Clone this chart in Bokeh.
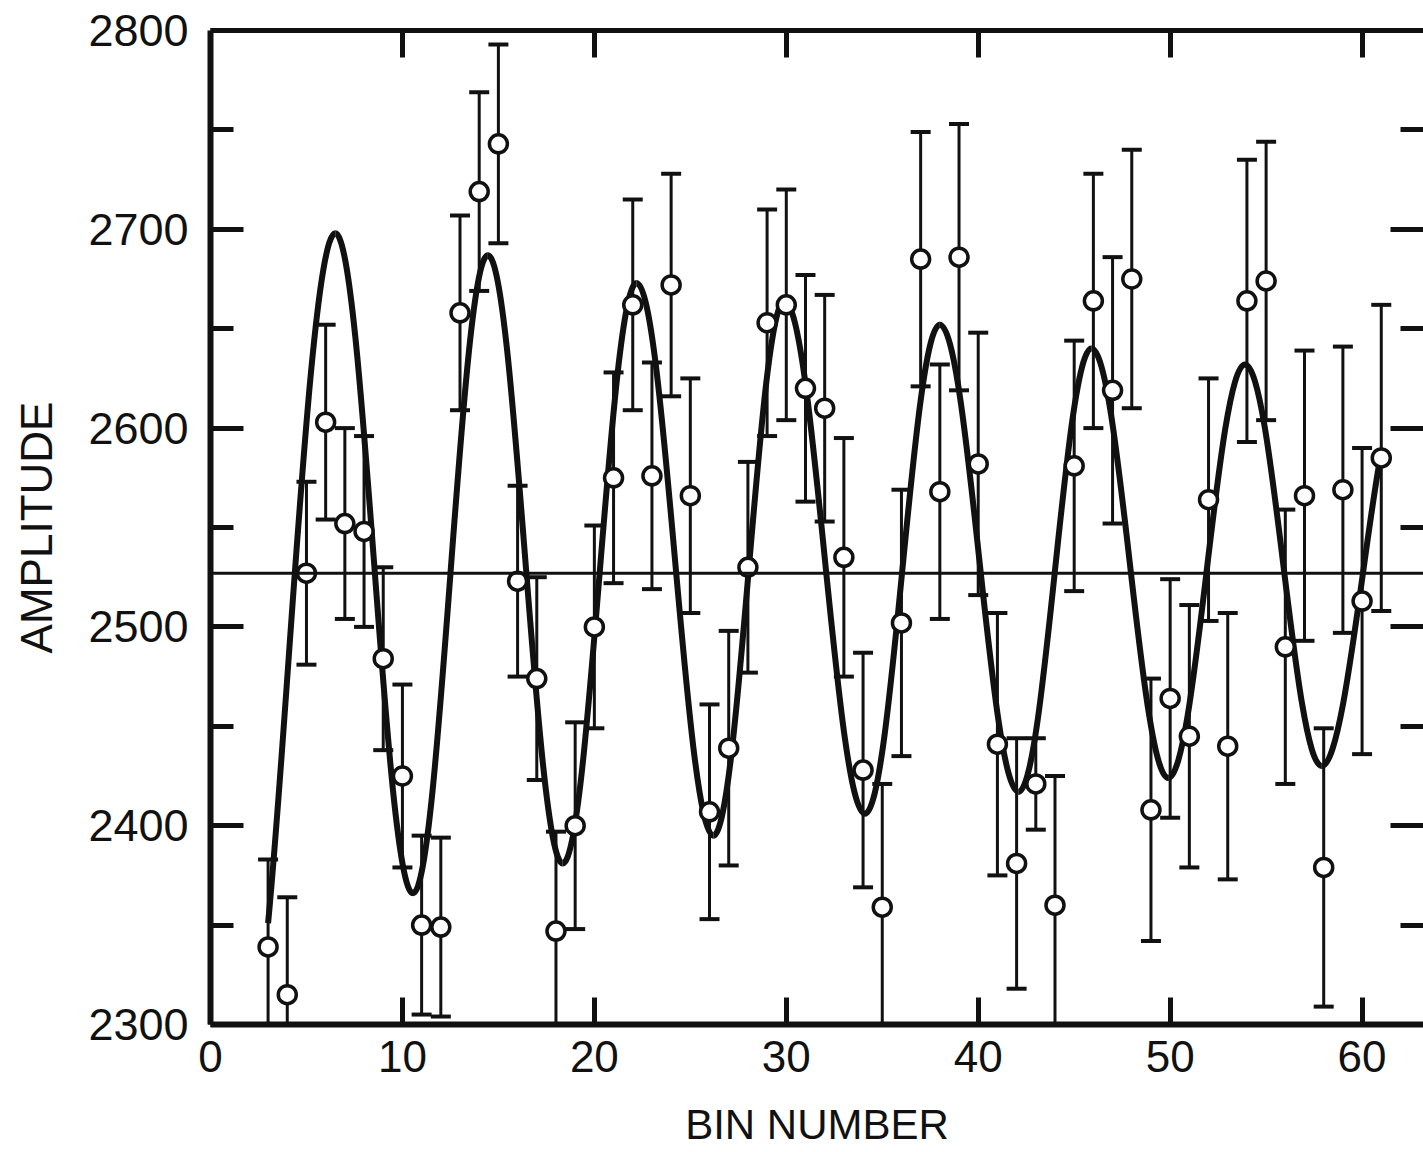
from bokeh.plotting import figure
from bokeh.models import LinearAxis, FixedTicker, Range1d, ColumnDataSource, Span, CustomJSTickFormatter
from bokeh.embed import file_html
from bokeh.resources import INLINE

# ---- data ----
bins = [3, 4, 5, 6, 7, 8, 9, 10, 11, 12, 13, 14, 15, 16, 17, 18, 19, 20, 21, 22,
        23, 24, 25, 26, 27, 28, 29, 30, 31, 32, 33, 34, 35, 36, 37, 38, 39, 40, 41, 42,
        43, 44, 45, 46, 47, 48, 49, 50, 51, 52, 53, 54, 55, 56, 57, 58, 59, 60, 61]
amplitude = [2339, 2315, 2527, 2603, 2552, 2548, 2484, 2425, 2350, 2349, 2658, 2719, 2743, 2523, 2474, 2347, 2400, 2500, 2575, 2662,
             2576, 2672, 2566, 2407, 2439, 2530, 2653, 2662, 2620, 2610, 2535, 2428, 2359, 2502, 2685, 2568, 2686, 2582, 2441, 2381,
             2421, 2360, 2581, 2664, 2619, 2675, 2408, 2464, 2445, 2564, 2440, 2664, 2674, 2490, 2566, 2379, 2569, 2513, 2585]
error = [44, 49, 46, 49, 48, 48, 46, 46, 45, 45, 49, 50, 50, 48, 51, 50, 52, 51, 53, 53,
         57, 56, 59, 54, 59, 53, 57, 58, 57, 57, 60, 59, 62, 67, 64, 64, 67, 66, 66, 63,
         23, 65, 63, 64, 67, 65, 66, 60, 66, 61, 67, 71, 70, 69, 73, 70, 72, 77, 77]

# fitted curve: start, successive extremes, end
curve_x = [3.0, 6.5, 10.55, 14.45, 18.35, 22.2, 26.2, 29.9, 34.1, 38.0, 42.1, 45.9, 49.9, 53.9, 57.9, 61.0]
curve_y = [2351, 2698, 2366, 2687, 2381, 2673, 2395, 2664, 2406, 2652, 2417, 2640, 2424, 2632, 2430, 2588]

mean_level = 2527

x_ticks = [0, 10, 20, 30, 40, 50, 60]
y_ticks = [2300, 2400, 2500, 2600, 2700, 2800]
y_minor = [2350, 2450, 2550, 2650, 2750]

FONT = "Liberation Sans"
INK = "#111111"

p = figure(width=1423, height=1152, x_range=Range1d(0, 63.2), y_range=Range1d(2300, 2800),
           output_backend="svg", toolbar_location=None,
           min_border_left=210, min_border_top=30, min_border_bottom=128, min_border_right=0)
p.outline_line_color = None
p.xgrid.visible = False
p.ygrid.visible = False
p.background_fill_color = "white"
p.border_fill_color = "white"

blank = CustomJSTickFormatter(code="return '';")

# bottom axis
xa = p.xaxis[0]
xa.ticker = FixedTicker(ticks=x_ticks)
xa.axis_line_width = 6
xa.axis_line_color = INK
xa.major_tick_in = 27
xa.major_tick_out = 0
xa.major_tick_line_width = 5
xa.major_tick_line_color = INK
xa.minor_tick_line_color = None
xa.major_label_text_font = FONT
xa.major_label_text_font_size = "44px"
xa.major_label_text_color = INK
xa.major_label_standoff = 16
xa.axis_label = "BIN NUMBER"
xa.axis_label_text_font = FONT
xa.axis_label_text_font_size = "42px"
xa.axis_label_text_font_style = "normal"
xa.axis_label_text_color = INK
xa.axis_label_standoff = 26

# left axis
ya = p.yaxis[0]
ya.ticker = FixedTicker(ticks=y_ticks, minor_ticks=y_minor)
ya.axis_line_width = 6
ya.axis_line_color = INK
ya.major_tick_in = 33
ya.major_tick_out = 0
ya.minor_tick_in = 23
ya.minor_tick_out = 0
ya.major_tick_line_width = 5
ya.minor_tick_line_width = 5
ya.major_tick_line_color = INK
ya.minor_tick_line_color = INK
ya.major_label_text_font = FONT
ya.major_label_text_font_size = "45px"
ya.major_label_text_color = INK
ya.major_label_standoff = 22
ya.axis_label = "AMPLITUDE"
ya.axis_label_text_font = FONT
ya.axis_label_text_font_size = "44px"
ya.axis_label_text_font_style = "normal"
ya.axis_label_text_color = INK
ya.axis_label_standoff = 24

# top axis (ticks only)
ta = LinearAxis(ticker=FixedTicker(ticks=x_ticks[1:]), formatter=blank, axis_line_width=5, axis_line_color=INK,
                major_tick_in=27, major_tick_out=0, major_tick_line_width=5, major_tick_line_color=INK,
                minor_tick_line_color=None, major_label_standoff=0)
p.add_layout(ta, "above")

# right axis (ticks only; the frame edge falls outside the picture)
ra = LinearAxis(ticker=FixedTicker(ticks=y_ticks, minor_ticks=y_minor), formatter=blank, axis_line_color=None,
                major_tick_in=33, major_tick_out=0, minor_tick_in=23, minor_tick_out=0,
                major_tick_line_width=5, minor_tick_line_width=5,
                major_tick_line_color=INK, minor_tick_line_color=INK, major_label_standoff=0)
p.add_layout(ra, "right")

# mean level line
p.add_layout(Span(location=mean_level, dimension="width", line_color=INK, line_width=3))

# curve: cubic Bezier pieces between extremes
k = 0.36
n = len(curve_x)
bx0, by0, bx1, by1, cx0, cy0, cx1, cy1 = [], [], [], [], [], [], [], []
for i in range(n - 1):
    x0, y0, x1, y1 = curve_x[i], curve_y[i], curve_x[i + 1], curve_y[i + 1]
    dx, dy = x1 - x0, y1 - y0
    bx0.append(x0); by0.append(y0); bx1.append(x1); by1.append(y1)
    if i == 0:
        cx0.append(x0 + 0.3 * dx); cy0.append(y0 + 0.3 * dy)
    else:
        cx0.append(x0 + k * dx); cy0.append(y0)
    if i == n - 2:
        cx1.append(x1 - 0.3 * dx); cy1.append(y1 - 0.3 * dy)
    else:
        cx1.append(x1 - k * dx); cy1.append(y1)
p.bezier(x0=bx0, y0=by0, x1=bx1, y1=by1, cx0=cx0, cy0=cy0, cx1=cx1, cy1=cy1,
         line_color=INK, line_width=6)

# error bars
lo = [a - e for a, e in zip(amplitude, error)]
hi = [a + e for a, e in zip(amplitude, error)]
src = ColumnDataSource(dict(x=bins, y=amplitude, lo=lo, hi=hi))
p.segment(x0="x", y0="lo", x1="x", y1="hi", source=src, line_color=INK, line_width=3)
p.scatter(x="x", y="hi", source=src, marker="dash", size=20, line_color=INK, line_width=4)
p.scatter(x="x", y="lo", source=src, marker="dash", size=20, line_color=INK, line_width=4)

# data points
p.scatter(x="x", y="y", source=src, marker="circle", size=18, fill_color="white",
          line_color=INK, line_width=3.5)

open("out.html", "w").write(file_html(p, INLINE))
